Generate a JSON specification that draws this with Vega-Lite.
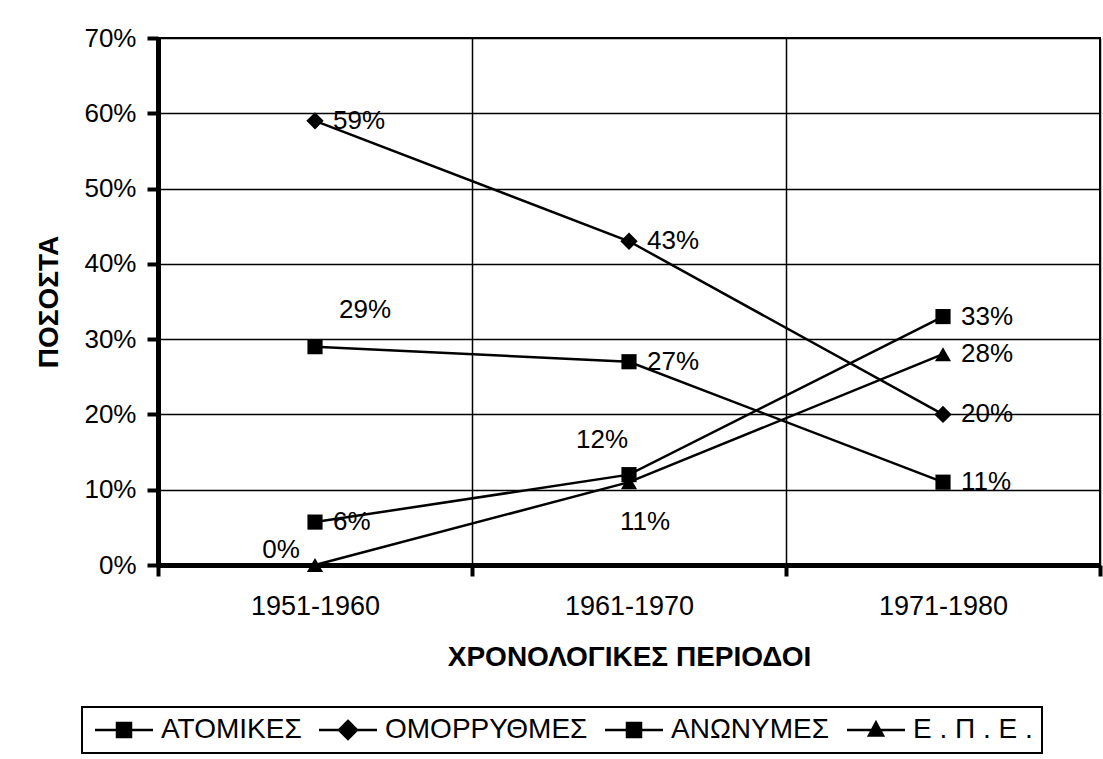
{
  "$schema": "https://vega.github.io/schema/vega-lite/v6.json",
  "autosize": {"type": "none"},
  "width": 942,
  "height": 527,
  "padding": {"left": 158, "top": 38, "right": 3, "bottom": 194},
  "background": "white",
  "config": {
    "font": "Liberation Sans",
    "view": {"stroke": "black", "strokeWidth": 2},
    "axis": {"labelColor": "black", "titleColor": "black", "labelFont": "Liberation Sans", "titleFont": "Liberation Sans"}
  },
  "data": {
    "values": [
      {"s": "ΑΤΟΜΙΚΕΣ", "p": "1951-1960", "v": 0.29},
      {"s": "ΑΤΟΜΙΚΕΣ", "p": "1961-1970", "v": 0.27},
      {"s": "ΑΤΟΜΙΚΕΣ", "p": "1971-1980", "v": 0.11},
      {"s": "ΟΜΟΡΡΥΘΜΕΣ", "p": "1951-1960", "v": 0.59},
      {"s": "ΟΜΟΡΡΥΘΜΕΣ", "p": "1961-1970", "v": 0.43},
      {"s": "ΟΜΟΡΡΥΘΜΕΣ", "p": "1971-1980", "v": 0.20},
      {"s": "ΑΝΩΝΥΜΕΣ", "p": "1951-1960", "v": 0.057},
      {"s": "ΑΝΩΝΥΜΕΣ", "p": "1961-1970", "v": 0.12},
      {"s": "ΑΝΩΝΥΜΕΣ", "p": "1971-1980", "v": 0.33},
      {"s": "Ε . Π . Ε .", "p": "1951-1960", "v": 0.0},
      {"s": "Ε . Π . Ε .", "p": "1961-1970", "v": 0.11},
      {"s": "Ε . Π . Ε .", "p": "1971-1980", "v": 0.28}
    ]
  },
  "encoding": {
    "x": {
      "field": "p", "type": "nominal", "sort": null,
      "scale": {"type": "band", "paddingInner": 0, "paddingOuter": 0},
      "axis": {
        "title": "ΧΡΟΝΟΛΟΓΙΚΕΣ  ΠΕΡΙΟΔΟΙ", "titleFontSize": 28, "titleFontWeight": "bold", "titlePadding": 24,
        "labelFontSize": 27, "labelAngle": 0, "labelPadding": 17,
        "tickBand": "extent", "tickSize": 11, "tickWidth": 4, "tickColor": "black",
        "domainWidth": 5, "domainColor": "black",
        "grid": true, "gridColor": "black", "gridWidth": 1.5, "gridOpacity": 1
      }
    },
    "y": {
      "field": "v", "type": "quantitative",
      "scale": {"domain": [0, 0.7], "nice": false, "zero": true},
      "axis": {
        "title": "ΠΟΣΟΣΤΑ", "titleFontSize": 28, "titleFontWeight": "bold", "titlePadding": 20,
        "values": [0, 0.1, 0.2, 0.3, 0.4, 0.5, 0.6, 0.7], "format": ".0%",
        "labelFontSize": 26, "labelPadding": 11,
        "tickSize": 11, "tickWidth": 4, "tickColor": "black",
        "domainWidth": 5, "domainColor": "black",
        "grid": true, "gridColor": "black", "gridWidth": 1.5, "gridOpacity": 1
      }
    }
  },
  "layer": [
    {
      "mark": {"type": "line", "strokeWidth": 2.5},
      "encoding": {
        "color": {
          "field": "s", "type": "nominal",
          "scale": {"domain": ["ΑΤΟΜΙΚΕΣ", "ΟΜΟΡΡΥΘΜΕΣ", "ΑΝΩΝΥΜΕΣ", "Ε . Π . Ε ."], "range": ["black", "black", "black", "black"]},
          "legend": {
            "title": null, "orient": "none", "direction": "horizontal",
            "legendX": -76, "legendY": 669,
            "labelFontSize": 28, "labelFont": "Liberation Sans", "labelColor": "black", "labelLimit": 400,
            "labelOffset": 42, "columnPadding": 12, "padding": 9,
            "strokeColor": "black",
            "symbolType": "M-1,0H4.8M1.2,-0.7H2.6V0.7H1.2Z",
            "symbolSize": 400, "symbolStrokeWidth": 2.5, "symbolStrokeColor": "black", "symbolFillColor": "black",
            "encode": {
              "legend": {"update": {"strokeWidth": {"value": 2}}},
              "symbols": {"update": {
                "shape": {"signal": "datum.value == 'ΟΜΟΡΡΥΘΜΕΣ' ? 'M-1,0H4.8M1.9,-0.9L2.8,0L1.9,0.9L1,0Z' : (datum.value == 'Ε . Π . Ε .' ? 'M-1,0H4.8M1.9,-0.75L2.6,0.55H1.2Z' : 'M-1,0H4.8M1.2,-0.7H2.6V0.7H1.2Z')"},
                "fill": {"value": "black"}, "stroke": {"value": "black"}, "opacity": {"value": 1}
              }}
            }
          }
        }
      }
    },
    {
      "transform": [{"filter": "datum.s == 'ΑΤΟΜΙΚΕΣ' || datum.s == 'ΑΝΩΝΥΜΕΣ'"}],
      "mark": {"type": "point", "shape": "square", "size": 230, "filled": true, "color": "black", "opacity": 1}
    },
    {
      "transform": [{"filter": "datum.s == 'ΟΜΟΡΡΥΘΜΕΣ'"}],
      "mark": {"type": "point", "shape": "diamond", "size": 300, "filled": true, "color": "black", "opacity": 1}
    },
    {
      "transform": [{"filter": "datum.s == 'Ε . Π . Ε .'"}],
      "mark": {"type": "point", "shape": "triangle-up", "size": 260, "filled": true, "color": "black", "opacity": 1}
    },
    {
      "transform": [{"filter": "!((datum.s == 'ΑΤΟΜΙΚΕΣ' && datum.p == '1951-1960') || (datum.s == 'ΑΝΩΝΥΜΕΣ' && datum.p == '1961-1970') || (datum.s == 'Ε . Π . Ε .' && datum.p != '1971-1980'))"}],
      "mark": {"type": "text", "align": "left", "baseline": "middle", "dx": 18, "fontSize": 26, "font": "Liberation Sans", "color": "black"},
      "encoding": {"text": {"field": "v", "type": "quantitative", "format": ".0%"}}
    },
    {
      "transform": [{"filter": "datum.s == 'ΑΤΟΜΙΚΕΣ' && datum.p == '1951-1960'"}],
      "mark": {"type": "text", "align": "center", "baseline": "middle", "dx": 50, "dy": -37, "fontSize": 26, "font": "Liberation Sans", "color": "black"},
      "encoding": {"text": {"field": "v", "type": "quantitative", "format": ".0%"}}
    },
    {
      "transform": [{"filter": "datum.s == 'ΑΝΩΝΥΜΕΣ' && datum.p == '1961-1970'"}],
      "mark": {"type": "text", "align": "center", "baseline": "middle", "dx": -27, "dy": -35, "fontSize": 26, "font": "Liberation Sans", "color": "black"},
      "encoding": {"text": {"field": "v", "type": "quantitative", "format": ".0%"}}
    },
    {
      "transform": [{"filter": "datum.s == 'Ε . Π . Ε .' && datum.p == '1961-1970'"}],
      "mark": {"type": "text", "align": "center", "baseline": "middle", "dx": 16, "dy": 40, "fontSize": 26, "font": "Liberation Sans", "color": "black"},
      "encoding": {"text": {"field": "v", "type": "quantitative", "format": ".0%"}}
    },
    {
      "transform": [{"filter": "datum.s == 'Ε . Π . Ε .' && datum.p == '1951-1960'"}],
      "mark": {"type": "text", "align": "center", "baseline": "middle", "dx": -34, "dy": -15, "fontSize": 26, "font": "Liberation Sans", "color": "black"},
      "encoding": {"text": {"field": "v", "type": "quantitative", "format": ".0%"}}
    }
  ]
}
